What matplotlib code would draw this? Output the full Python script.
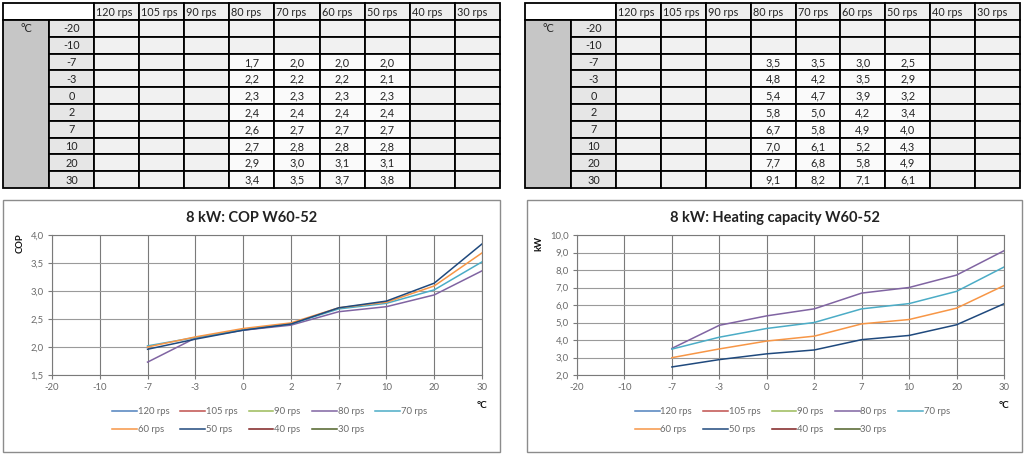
import numpy as np
import matplotlib
matplotlib.use('Agg')
import matplotlib.pyplot as plt
from matplotlib.patches import Rectangle
from matplotlib.ticker import FuncFormatter, MultipleLocator

plt.rcParams['font.family'] = ['Lato', 'DejaVu Sans']

temps = [-20, -10, -7, -3, 0, 2, 7, 10, 20, 30]
speeds = ['120 rps', '105 rps', '90 rps', '80 rps', '70 rps',
          '60 rps', '50 rps', '40 rps', '30 rps']
colors = ['#4f81bd', '#c0504d', '#9bbb59', '#8064a2', '#4bacc6',
          '#f79646', '#1f497d', '#7f2020', '#4f6228']

nan = np.nan
# COP per speed (only 80..50 rps measured)
cop_80 = [nan, nan, 1.73, 2.16, 2.30, 2.39, 2.63, 2.72, 2.93, 3.36]
cop_70 = [nan, nan, 2.02, 2.17, 2.31, 2.41, 2.68, 2.78, 3.02, 3.52]
cop_60 = [nan, nan, 2.00, 2.18, 2.33, 2.43, 2.70, 2.80, 3.09, 3.68]
cop_50 = [nan, nan, 1.96, 2.14, 2.30, 2.41, 2.70, 2.82, 3.14, 3.84]

# heating capacity in kW
cap_80 = [nan, nan, 3.52, 4.84, 5.38, 5.78, 6.68, 7.00, 7.71, 9.10]
cap_70 = [nan, nan, 3.48, 4.16, 4.66, 5.00, 5.78, 6.08, 6.78, 8.17]
cap_60 = [nan, nan, 2.99, 3.49, 3.94, 4.22, 4.92, 5.17, 5.82, 7.11]
cap_50 = [nan, nan, 2.46, 2.88, 3.21, 3.43, 4.02, 4.26, 4.87, 6.07]

cop = {'80 rps': cop_80, '70 rps': cop_70, '60 rps': cop_60, '50 rps': cop_50}
cap = {'80 rps': cap_80, '70 rps': cap_70, '60 rps': cap_60, '50 rps': cap_50}

W, H = 1024, 454
fig = plt.figure(figsize=(W / 100, H / 100), dpi=100)
bg = fig.add_axes([0, 0, 1, 1])
bg.set_xlim(0, W)
bg.set_ylim(H, 0)
bg.axis('off')


def comma(v, _=None):
    return f'{v:.1f}'.replace('.', ',')


def cell(x, y, w, h, fc):
    bg.add_patch(Rectangle((x, y), w, h, facecolor=fc, edgecolor='black', lw=1.3))


def draw_table(x0, x1, values):
    lab_w, tmp_w = 46, 45
    top, head_h = 3, 17
    row_h = (188 - top - head_h) / len(temps)
    xd = x0 + lab_w + tmp_w
    col_w = (x1 - xd) / len(speeds)
    fs = 7.8
    cell(x0, top, lab_w + tmp_w, head_h, 'white')
    for j, s in enumerate(speeds):
        cx = xd + j * col_w
        cell(cx, top, col_w, head_h, '#eeeeee')
        bg.text(cx + 2, top + head_h / 2 + 0.5, s, ha='left', va='center',
                fontsize=fs, color='#222222')
    body = top + head_h
    cell(x0, body, lab_w, row_h * len(temps), '#c6c6c6')
    bg.text(x0 + lab_w / 2, body + row_h / 2, '°C', ha='center', va='center',
            fontsize=fs, color='#222222')
    for i, t in enumerate(temps):
        ry = body + i * row_h
        cell(x0 + lab_w, ry, tmp_w, row_h, '#e6e6e6')
        bg.text(x0 + lab_w + tmp_w / 2, ry + row_h / 2 + 0.5, str(t),
                ha='center', va='center', fontsize=fs, color='#222222')
        for j, s in enumerate(speeds):
            cx = xd + j * col_w
            v = values[s][i] if s in values else nan
            has = not np.isnan(v)
            cell(cx, ry, col_w, row_h, '#fafafa' if has else '#f1f1f1')
            if has:
                bg.text(cx + col_w / 2, ry + row_h / 2 + 0.5, comma(v),
                        ha='center', va='center', fontsize=fs, color='#222222')


def draw_chart(box, plot, values, ylim, ystep, title, ylabel, ylab_xy, leg_xy):
    bx0, by0, bx1, by1 = box
    bg.add_patch(Rectangle((bx0, by0), bx1 - bx0, by1 - by0, facecolor='white',
                           edgecolor='#8c8c8c', lw=1.0, zorder=0))
    bg.text((bx0 + bx1) / 2, 218, title, ha='center', va='center',
            fontsize=10.5, fontweight='bold', color='#222222')
    bg.text(ylab_xy[0], ylab_xy[1], ylabel, rotation=90, ha='center', va='center',
            fontsize=6.8, fontweight='bold', color='#111111')
    bg.text(plot[2], 405, '°C', ha='center', va='center',
            fontsize=7.2, fontweight='bold', color='#111111')

    px0, py0, px1, py1 = plot
    ax = fig.add_axes([px0 / W, 1 - py1 / H, (px1 - px0) / W, (py1 - py0) / H])
    x = np.arange(len(temps))
    handles = []
    for s, c in zip(speeds, colors):
        ys = values[s] if s in values else [nan] * len(temps)
        handles += ax.plot(x, ys, color=c, lw=1.1, label=s)
    ax.set_xlim(0, len(temps) - 1)
    ax.set_ylim(*ylim)
    ax.set_xticks(x)
    ax.set_xticklabels([str(t) for t in temps])
    ax.yaxis.set_major_locator(MultipleLocator(ystep))
    ax.yaxis.set_major_formatter(FuncFormatter(comma))
    ax.grid(axis='x', color='#7a7a7a', lw=0.8)
    ax.grid(axis='y', color='#9a9a9a', lw=0.8)
    ax.set_axisbelow(True)
    for sp in ax.spines.values():
        sp.set_color('#7a7a7a')
        sp.set_linewidth(0.8)
    ax.tick_params(direction='out', length=3, width=0.8, color='#7a7a7a',
                   labelsize=6.8, labelcolor='#6a6a6a', pad=3)
    # legend fills column-wise, so interleave to get row-wise order
    ncol = 5
    order = []
    for c in range(ncol):
        order.append(c)
        if c + ncol < len(handles):
            order.append(c + ncol)
    ax.legend([handles[k] for k in order], [speeds[k] for k in order],
              ncol=ncol, loc='upper left', bbox_to_anchor=leg_xy,
              bbox_transform=bg.transData, frameon=False, fontsize=6.8,
              labelcolor='#6a6a6a', handlelength=2.6, handletextpad=0.1,
              columnspacing=1.2, labelspacing=0.95, borderpad=0, borderaxespad=0)
    return ax


draw_table(3, 500, cop)
draw_table(525, 1020, cap)

draw_chart((3, 200, 500, 452), (52, 235, 482, 375), cop, (1.5, 4.0), 0.5,
           '8 kW: COP W60-52', 'COP', (20, 243), (112, 407))
draw_chart((527, 200, 1022, 452), (577, 235, 1004, 375), cap, (2.0, 10.0), 1.0,
           '8 kW: Heating capacity W60-52', 'kW', (539, 243), (635, 407))

fig.savefig('out.png', dpi=100)
